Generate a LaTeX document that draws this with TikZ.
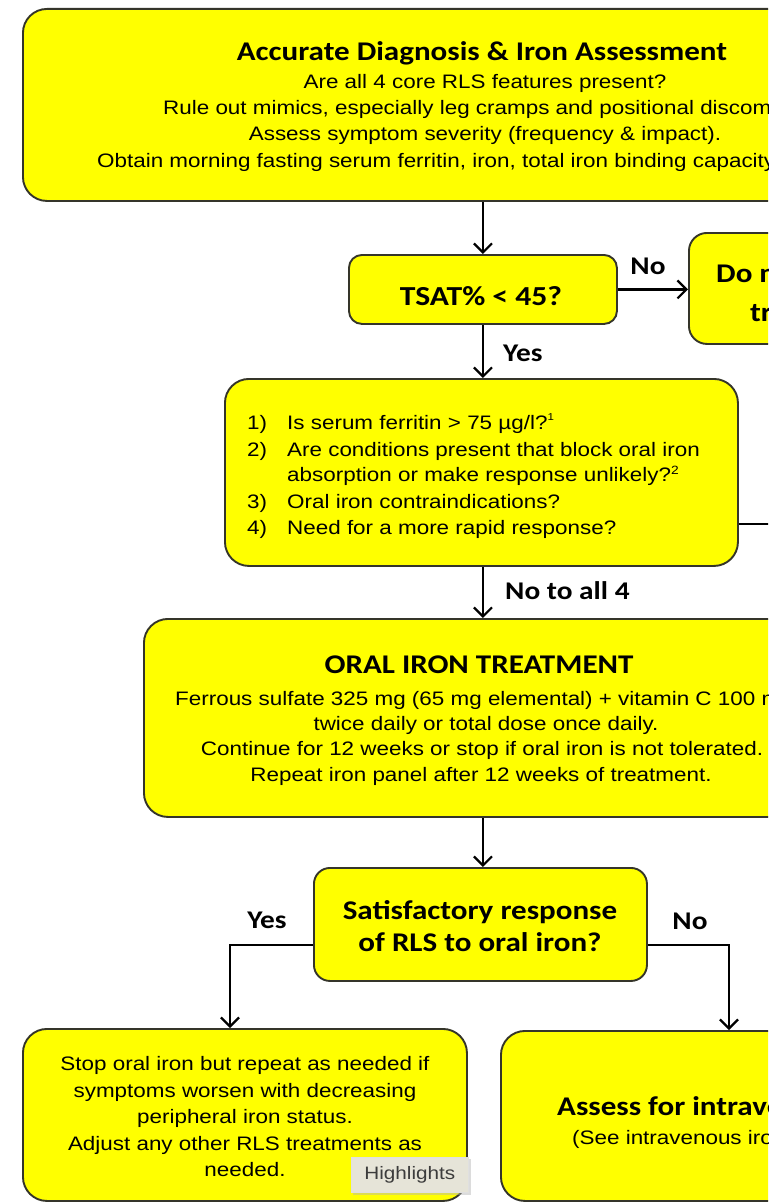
\documentclass[tikz,border=0pt]{standalone}
\usepackage{fontspec}
\setmainfont[FakeStretch=1.15]{Liberation Sans}
\newfontfamily\calib[FakeStretch=1.15]{Carlito}
\usetikzlibrary{arrows.meta}
\definecolor{boxyellow}{HTML}{FFFF00}
\definecolor{boxline}{HTML}{35352A}
\definecolor{tipfill}{HTML}{E6E4D8}
\definecolor{tiptext}{HTML}{3C3C3C}
\tikzset{
  box/.style={draw=boxline, fill=boxyellow, line width=1.9pt, rounded corners=24pt, inner sep=0pt},
  sbox/.style={box, rounded corners=13pt},
  arr/.style={line width=2.2pt, -{Straight Barb[length=9pt,width=18pt,line width=2.2pt]}},
  plain/.style={line width=2.2pt},
  body/.style={font=\fontsize{19.5}{26.5}\selectfont, inner sep=0pt},
  head/.style={font=\calib\bfseries\fontsize{27}{32}\selectfont, inner sep=0pt},
  lab/.style={font=\calib\bfseries\fontsize{25.5}{28}\selectfont, inner sep=0pt},
}
\begin{document}
\begin{tikzpicture}[x=1pt,y=-1pt]
\clip (0,0) rectangle (768,1204);
\fill[white] (0,0) rectangle (768,1204);
% boxes
\node[box, anchor=north west, minimum width=920pt, minimum height=192pt] (diag) at (22,8) {};
\node[sbox, anchor=north west, minimum width=268pt, minimum height=69pt] (tsat) at (348,254) {};
\node[box, rounded corners=18pt, anchor=north west, minimum width=280pt, minimum height=111pt] (notreat) at (688,232) {};
\node[box, anchor=north west, minimum width=513pt, minimum height=187pt] (crit) at (224,378) {};
\node[box, anchor=north west, minimum width=678pt, minimum height=198pt] (oral) at (143,618) {};
\node[sbox, rounded corners=16pt, anchor=north west, minimum width=333pt, minimum height=113pt] (resp) at (313,867) {};
\node[box, anchor=north west, minimum width=444pt, minimum height=172pt] (stop) at (22,1028) {};
\node[box, anchor=north west, minimum width=460pt, minimum height=170pt] (iv) at (500,1030) {};
% texts: diagnosis
\node[head, anchor=base] (diagT) at (482,61) {Accurate Diagnosis \& Iron Assessment};
\node[body, anchor=base] (diag1) at (485,89) {Are all 4 core RLS features present?};
\node[body, anchor=base west] (diag2) at (163,115) {Rule out mimics, especially leg cramps and positional discomfort.};
\node[body, anchor=base] (diag3) at (485,141) {Assess symptom severity (frequency \& impact).};
\node[body, anchor=base west] (diag4) at (97,167) {Obtain morning fasting serum ferritin, iron, total iron binding capacity};
% tsat
\node[head, font=\calib\bfseries\fontsize{27.5}{32}\selectfont, anchor=base] (tsatT) at (481,305) {TSAT\% < 45?};
\node[head, anchor=base west] (nt1) at (716,282) {Do not start};
\node[head, anchor=base west] (nt2) at (750,321) {treatment};
% criteria
\node[body, anchor=base west] (c1n) at (247,429) {1)};
\node[body, anchor=base west] (c1) at (287,429) {Is serum ferritin > 75 µg/l?\raisebox{9pt}{\fontsize{10}{10}\selectfont 1}};
\node[body, anchor=base west] (c2n) at (247,456) {2)};
\node[body, anchor=base west] (c2) at (287,456) {Are conditions present that block oral iron};
\node[body, anchor=base west] (c2b) at (287,481) {absorption or make response unlikely?\raisebox{7pt}{\fontsize{12}{12}\selectfont 2}};
\node[body, anchor=base west] (c3n) at (247,508) {3)};
\node[body, anchor=base west] (c3) at (287,508) {Oral iron contraindications?};
\node[body, anchor=base west] (c4n) at (247,534) {4)};
\node[body, anchor=base west] (c4) at (287,534) {Need for a more rapid response?};
% oral
\node[head, anchor=base] (oralT) at (479,673) {ORAL IRON TREATMENT};
\node[body, anchor=base west] (o1) at (175,705) {Ferrous sulfate 325 mg (65 mg elemental) + vitamin C 100 mg};
\node[body, anchor=base] (o2) at (486,730) {twice daily or total dose once daily.};
\node[body, anchor=base] (o3) at (482,755) {Continue for 12 weeks or stop if oral iron is not tolerated.};
\node[body, anchor=base] (o4) at (481,781) {Repeat iron panel after 12 weeks of treatment.};
% response
\node[head, align=center, anchor=center] (respT) at (480,926) {Satisfactory response\\of RLS to oral iron?};
% stop
\node[body, align=center, anchor=center] (stopT) at (245,1117) {Stop oral iron but repeat as needed if\\symptoms worsen with decreasing\\peripheral iron status.\\Adjust any other RLS treatments as\\needed.};
% iv
\node[head, anchor=base west] (ivT) at (557,1115) {Assess for intravenous iron};
\node[body, anchor=base west] (ivS) at (572,1144) {(See intravenous iron treatment)};
% connectors
\draw[arr] (tsat.north |- diag.south) -- (tsat.north);
\draw[arr] (tsat.east) -- (notreat.west |- tsat.east);
\node[lab, anchor=center] (noL) at (648,266) {No};
\draw[arr] (tsat.south) -- (crit.north -| tsat.south);
\node[lab, anchor=west] (yesL) at (503,353) {Yes};
\coordinate (critout) at (790,524);
\draw[plain] (crit.east |- critout) -- (critout);
\draw[arr] (tsat.south |- crit.south) -- (tsat.south |- oral.north);
\node[lab, anchor=west] (no4L) at (505,591) {No to all 4};
\draw[arr] (tsat.south |- oral.south) -- (tsat.south |- resp.north);
\coordinate (yesc) at (230,945);
\coordinate (noc) at (729,945);
\draw[arr] (resp.west |- yesc) -- (yesc) -- (stop.north -| yesc);
\draw[arr] (resp.east |- noc) -- (noc) -- (iv.north -| noc);
\node[lab] (yesL2) at (267,920) {Yes};
\node[lab] (noL2) at (690,921) {No};
% tooltip
\fill[black!30, opacity=0.45] (353,1159) rectangle (471,1195);
\node[fill=tipfill, draw=black!12, line width=0.6pt, minimum width=117pt, minimum height=35pt, anchor=north west, inner sep=0pt] (tip) at (351,1157) {};
\node[font=\fontsize{18}{20}\selectfont, text=tiptext] (tipT) at (tip.center) {Highlights};
\end{tikzpicture}
\end{document}
